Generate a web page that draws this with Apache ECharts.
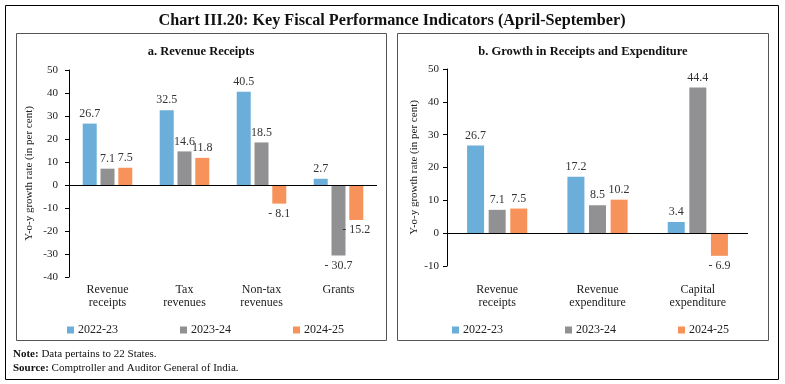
<!DOCTYPE html>
<html>
<head>
<meta charset="utf-8">
<script src="https://cdn.jsdelivr.net/npm/echarts@6/dist/echarts.min.js"></script>
<style>html,body{margin:0;padding:0;background:#fff}#c{width:785px;height:384px}</style>
</head>
<body>
<div id="c"></div>
<script>
const seriesNames = ['2022-23', '2023-24', '2024-25'];
const colors = ['#6BAED9', '#919193', '#F7935A'];

const catsA = ['Revenue\nreceipts', 'Tax\nrevenues', 'Non-tax\nrevenues', 'Grants'];
const a2223 = [26.7, 32.5, 40.5, 2.7];
const a2324 = [7.1, 14.6, 18.5, -30.7];
const a2425 = [7.5, 11.8, -8.1, -15.2];

const catsB = ['Revenue\nreceipts', 'Revenue\nexpenditure', 'Capital\nexpenditure'];
const b2223 = [26.7, 17.2, 3.4];
const b2324 = [7.1, 8.5, 44.4];
const b2425 = [7.5, 10.2, -6.9];

const yTicksA = {min: -40, max: 50, interval: 10};
const yTicksB = {min: -10, max: 50, interval: 10};

const FONT = 'Liberation Serif';
const chart = echarts.init(document.getElementById('c'));

function fmt(v) { return v < 0 ? '- ' + Math.abs(v).toFixed(1) : v.toFixed(1); }
function items(arr) {
  return arr.map(v => ({value: v, label: {position: v < 0 ? 'bottom' : 'top'}}));
}
function barSeries(data, idx, gridIdx, width) {
  return {
    type: 'bar', name: seriesNames[idx], xAxisIndex: gridIdx, yAxisIndex: gridIdx,
    data: items(data), barWidth: width, barGap: '27%',
    itemStyle: {color: colors[idx]},
    label: {show: true, formatter: p => fmt(p.value), fontFamily: FONT, fontSize: 12, color: '#333', distance: 4},
    markLine: idx === 0 ? {silent: true, symbol: 'none', label: {show: false},
      lineStyle: {color: '#000', width: 1, type: 'solid'}, data: [{yAxis: 0}]} : undefined
  };
}
function yAxis(gridIdx, t, margin, gap) {
  return {
    type: 'value', gridIndex: gridIdx, min: t.min, max: t.max, interval: t.interval,
    name: 'Y-o-y growth rate (in per cent)', nameLocation: 'middle', nameGap: gap,
    nameTextStyle: {fontFamily: FONT, fontSize: 11, color: '#222'},
    axisLine: {show: true, lineStyle: {color: '#000', width: 1}},
    axisTick: {show: true, length: 4, lineStyle: {color: '#000'}},
    axisLabel: {fontFamily: FONT, fontSize: 11, color: '#222', margin: margin},
    splitLine: {show: false}
  };
}
function xAxis(gridIdx, cats, margin) {
  return {
    type: 'category', gridIndex: gridIdx, data: cats,
    axisLine: {show: false, onZero: false}, axisTick: {show: false},
    axisLabel: {fontFamily: FONT, fontSize: 12, color: '#222', margin: margin, lineHeight: 13, interval: 0}
  };
}
function legend(left) {
  return {
    data: seriesNames, left: left, top: 319, itemWidth: 7, itemHeight: 7, itemGap: 62,
    icon: 'rect', selectedMode: false,
    textStyle: {fontFamily: FONT, fontSize: 12, color: '#222', padding: [0, 0, 0, -1]}
  };
}

chart.setOption({
  animation: false,
  grid: [
    {left: 69, right: 408, top: 70, bottom: 107},
    {left: 447, right: 37, top: 69, bottom: 118}
  ],
  xAxis: [xAxis(0, catsA, 6), xAxis(1, catsB, 17)],
  yAxis: [yAxis(0, yTicksA, 11, 34), yAxis(1, yTicksB, 8, 27)],
  legend: [legend(62), legend(447)],
  series: [
    barSeries(a2223, 0, 0, 14), barSeries(a2324, 1, 0, 14), barSeries(a2425, 2, 0, 14),
    barSeries(b2223, 0, 1, 17), barSeries(b2324, 1, 1, 17), barSeries(b2425, 2, 1, 17)
  ],
  graphic: [
    {type: 'rect', shape: {x: 5.5, y: 5.5, width: 773, height: 374}, style: {fill: 'none', stroke: '#000', lineWidth: 1}, z: -1},
    {type: 'rect', shape: {x: 16.5, y: 33.5, width: 370, height: 307}, style: {fill: 'none', stroke: '#555', lineWidth: 1}, z: -1},
    {type: 'rect', shape: {x: 397.5, y: 33.5, width: 371, height: 307}, style: {fill: 'none', stroke: '#555', lineWidth: 1}, z: -1},
    {type: 'text', style: {text: 'Chart III.20: Key Fiscal Performance Indicators (April-September)', x: 392, y: 21,
      align: 'center', verticalAlign: 'middle', font: 'bold 16.2px "' + FONT + '"', fill: '#111'}},
    {type: 'text', style: {text: 'a. Revenue Receipts', x: 201, y: 52, align: 'center', verticalAlign: 'middle',
      font: 'bold 12.5px "' + FONT + '"', fill: '#111'}},
    {type: 'text', style: {text: 'b. Growth in Receipts and Expenditure', x: 583, y: 52, align: 'center', verticalAlign: 'middle',
      font: 'bold 12.5px "' + FONT + '"', fill: '#111'}},
    {type: 'text', style: {text: '{b|Note:} Data pertains to 22 States.', x: 13, y: 354, verticalAlign: 'middle',
      font: '11px "' + FONT + '"', fill: '#111', rich: {b: {fontWeight: 'bold', fontFamily: FONT, fontSize: 11}}}},
    {type: 'text', style: {text: '{b|Source:} Comptroller and Auditor General of India.', x: 13, y: 368, verticalAlign: 'middle',
      font: '11px "' + FONT + '"', fill: '#111', rich: {b: {fontWeight: 'bold', fontFamily: FONT, fontSize: 11}}}}
  ]
});
</script>
</body>
</html>
